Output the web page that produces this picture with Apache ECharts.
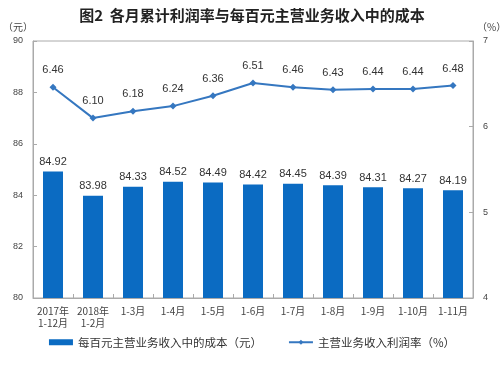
<!DOCTYPE html>
<html><head><meta charset="utf-8">
<script src="https://cdn.jsdelivr.net/npm/echarts@6/dist/echarts.min.js"></script>
<style>html,body{margin:0;padding:0;background:#fff}#c{width:504px;height:366px}</style>
</head><body><div id="c"></div>
<script>
var categories = ['2017年\n1-12月','2018年\n1-2月','1-3月','1-4月','1-5月','1-6月','1-7月','1-8月','1-9月','1-10月','1-11月'];
var costValues = [84.92,83.98,84.33,84.52,84.49,84.42,84.45,84.39,84.31,84.27,84.19];
var profitRate = [6.46,6.10,6.18,6.24,6.36,6.51,6.46,6.43,6.44,6.44,6.48];
var leftTicks = [80,90,2];
var rightTicks = [4,7,1];
var chart = echarts.init(document.getElementById('c'));
var font = '"Noto Sans CJK SC", "Noto Sans", sans-serif';
chart.setOption({
  backgroundColor:'#fff',
  animation:false,
  title:{text:'图2  各月累计利润率与每百元主营业务收入中的成本',left:'center',top:3,
    textStyle:{fontSize:15,fontWeight:'bold',color:'#222',fontFamily:font}},
  graphic:[
    {type:'text',left:3,top:22,style:{text:'（元）',fontSize:10,fill:'#444',fontFamily:font}},
    {type:'text',left:477,top:22,style:{text:'（%）',fontSize:10,fill:'#444',fontFamily:font}}
  ],
  legend:{bottom:13,left:'center',itemGap:26,itemWidth:24,itemHeight:6,
    textStyle:{fontSize:11.5,color:'#333',fontFamily:font},
    data:[{name:'每百元主营业务收入中的成本（元）',icon:'rect'},{name:'主营业务收入利润率（%）'}]},
  grid:{left:33,right:31,top:41,bottom:68,show:true,borderColor:'#aaa',borderWidth:1},
  xAxis:{type:'category',data:categories,
    axisLine:{lineStyle:{color:'#aaa'}},
    axisTick:{show:true,inside:true,length:4,lineStyle:{color:'#aaa'}},
    axisLabel:{fontSize:10,color:'#444',lineHeight:12,margin:7,interval:0,fontFamily:font}},
  yAxis:[
    {type:'value',min:leftTicks[0],max:leftTicks[1],interval:leftTicks[2],
     axisLine:{show:true,lineStyle:{color:'#aaa'}},
     axisTick:{show:true,inside:true,length:4,lineStyle:{color:'#aaa'}},
     axisLabel:{fontSize:9,color:'#444',margin:10},splitLine:{show:false}},
    {type:'value',min:rightTicks[0],max:rightTicks[1],interval:rightTicks[2],
     axisLine:{show:true,lineStyle:{color:'#aaa'}},
     axisTick:{show:true,inside:true,length:4,lineStyle:{color:'#aaa'}},
     axisLabel:{fontSize:9,color:'#444',margin:10},splitLine:{show:false}}
  ],
  series:[
    {name:'每百元主营业务收入中的成本（元）',type:'bar',data:costValues,barWidth:20,
     itemStyle:{color:'#0b6bc2'},
     label:{show:true,position:'top',fontSize:11,color:'#333',distance:4,formatter:function(p){return p.value.toFixed(2);}}},
    {name:'主营业务收入利润率（%）',type:'line',yAxisIndex:1,data:profitRate,
     symbol:'diamond',symbolSize:7,
     lineStyle:{color:'#3577c0',width:2},itemStyle:{color:'#3577c0'},
     label:{show:true,position:'top',fontSize:11,color:'#333',distance:8,formatter:function(p){return p.value.toFixed(2);}}}
  ]
});
</script></body></html>
